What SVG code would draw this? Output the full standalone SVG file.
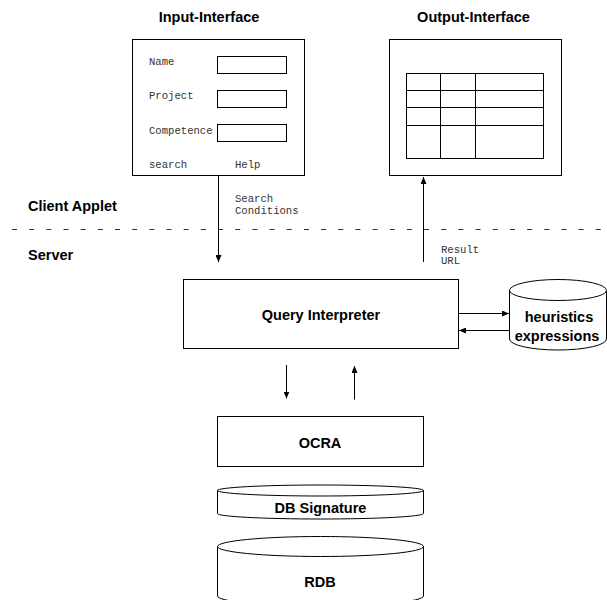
<svg xmlns="http://www.w3.org/2000/svg" width="607" height="600" viewBox="0 0 607 600">
  <style>
    .box { fill: #fff; stroke: #000; stroke-width: 1; }
    .thin { fill: none; stroke: #000; stroke-width: 1; }
    .title { font-family: "Liberation Sans", Arial, sans-serif; font-weight: bold; font-size: 14.5px; fill: #000; }
    .mono { font-family: "Liberation Mono", "Courier New", monospace; font-size: 10.6px; fill: #333; }
    .wire { fill: none; stroke: #000; stroke-width: 1; }
  </style>
  <defs>
    <marker id="arrow" markerUnits="userSpaceOnUse" markerWidth="7" markerHeight="6" refX="7" refY="3" orient="auto">
      <path d="M0,0 L7,3 L0,6 z" fill="#000"/>
    </marker>
  </defs>

  <!-- section labels and client/server boundary -->
  <g id="boundary">
    <line x1="12" y1="229.5" x2="607" y2="229.5" stroke="#333" stroke-width="1.2" stroke-dasharray="5 12.17"/>
    <text class="title" x="28" y="211">Client Applet</text>
    <text class="title" x="28" y="260">Server</text>
  </g>

  <!-- input form -->
  <g id="input-interface">
    <text class="title" x="209" y="22" text-anchor="middle">Input-Interface</text>
    <rect class="box" x="132.5" y="39.5" width="172" height="136"/>
    <text class="mono" x="149" y="65">Name</text>
    <rect class="thin" x="217.5" y="56.5" width="69" height="17"/>
    <text class="mono" x="149" y="99">Project</text>
    <rect class="thin" x="217.5" y="90.5" width="69" height="17"/>
    <text class="mono" x="149" y="134">Competence</text>
    <rect class="thin" x="217.5" y="124.5" width="69" height="17"/>
    <text class="mono" x="149" y="168">search</text>
    <text class="mono" x="235" y="168">Help</text>
  </g>

  <!-- output table -->
  <g id="output-interface">
    <text class="title" x="473.5" y="22" text-anchor="middle">Output-Interface</text>
    <rect class="box" x="389.5" y="39.5" width="172" height="136"/>
    <rect class="thin" x="406.5" y="73.5" width="137" height="85"/>
    <line class="thin" x1="406.5" y1="90.5" x2="543.5" y2="90.5"/>
    <line class="thin" x1="406.5" y1="107.5" x2="543.5" y2="107.5"/>
    <line class="thin" x1="406.5" y1="125.5" x2="543.5" y2="125.5"/>
    <line class="thin" x1="440.5" y1="73.5" x2="440.5" y2="158.5"/>
    <line class="thin" x1="475.5" y1="73.5" x2="475.5" y2="158.5"/>
  </g>

  <g id="query-interpreter">
    <rect class="box" x="183.5" y="279.5" width="275" height="69"/>
    <text class="title" x="321" y="320" text-anchor="middle">Query Interpreter</text>
  </g>

  <g id="heuristics">
    <path class="box" d="M509.5,290.5 A48.5,11 0 0 1 606.5,290.5 L606.5,339 A48.5,11 0 0 1 509.5,339 Z"/>
    <path class="thin" d="M509.5,290.5 A48.5,10 0 0 0 606.5,290.5"/>
    <text class="title" x="559" y="322" text-anchor="middle">heuristics</text>
    <text class="title" x="557" y="341" text-anchor="middle">expressions</text>
  </g>

  <g id="ocra">
    <rect class="box" x="217.5" y="416.5" width="206" height="50"/>
    <text class="title" x="320" y="447.5" text-anchor="middle">OCRA</text>
  </g>

  <g id="db-signature">
    <path class="box" d="M217.5,490.5 A103,5.5 0 0 1 423.5,490.5 L423.5,513.5 A103,5.5 0 0 1 217.5,513.5 Z"/>
    <path class="thin" d="M217.5,490.5 A103,5.5 0 0 0 423.5,490.5"/>
    <text class="title" x="320.5" y="513" text-anchor="middle">DB Signature</text>
  </g>

  <g id="rdb">
    <path class="box" d="M217.5,546.5 A103,10 0 0 1 423.5,546.5 L423.5,596 A103,10 0 0 1 217.5,596 Z"/>
    <path class="thin" d="M217.5,546.5 A103,10 0 0 0 423.5,546.5"/>
    <text class="title" x="320" y="587" text-anchor="middle">RDB</text>
  </g>

  <!-- connectors -->
  <g id="connectors">
    <line class="wire" x1="218.5" y1="176" x2="218.5" y2="262" marker-end="url(#arrow)"/>
    <text class="mono" x="235" y="202">Search</text>
    <text class="mono" x="235" y="214">Conditions</text>

    <line class="wire" x1="423.5" y1="262" x2="423.5" y2="177" marker-end="url(#arrow)"/>
    <text class="mono" x="441" y="253">Result</text>
    <text class="mono" x="441" y="264">URL</text>

    <line class="wire" x1="458.5" y1="313.5" x2="509" y2="313.5" marker-end="url(#arrow)"/>
    <line class="wire" x1="509" y1="330.5" x2="459" y2="330.5" marker-end="url(#arrow)"/>

    <line class="wire" x1="286.5" y1="365" x2="286.5" y2="398.5" marker-end="url(#arrow)"/>
    <line class="wire" x1="354.5" y1="399.5" x2="354.5" y2="366" marker-end="url(#arrow)"/>
  </g>
</svg>
